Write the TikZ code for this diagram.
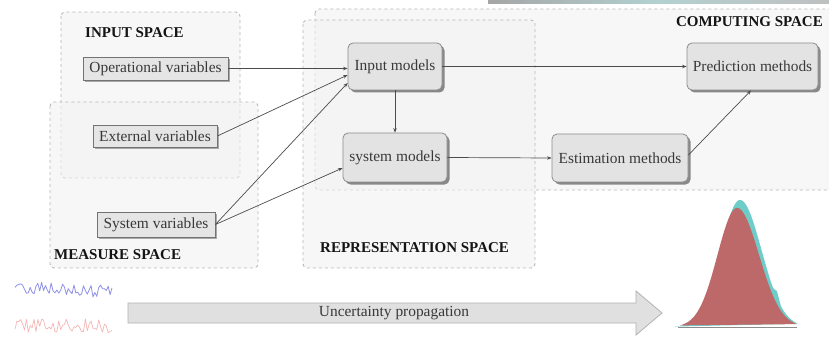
\documentclass[tikz,border=0pt]{standalone}
\usepackage{fontspec}
\setmainfont{Liberation Serif}
\usetikzlibrary{shadows,calc,arrows.meta}

\definecolor{bellred}{RGB}{190,105,105}
\definecolor{bellcyan}{RGB}{110,205,200}
\definecolor{sigblue}{RGB}{125,125,230}
\definecolor{sigred}{RGB}{242,150,150}

\begin{document}
\begin{tikzpicture}[x=1pt,y=-1pt,
  every node/.style={font=\fontsize{15.4}{18}\selectfont, text=black!78},
  space/.style={draw=black!28, dash pattern=on 3pt off 3pt, line width=0.9pt,
    fill=black!5, fill opacity=0.55, rounded corners=4pt},
  spacelabel/.style={font=\fontsize{15}{18}\selectfont\bfseries, text=black!92, inner sep=0pt},
  varbox/.style={draw=black!55, fill=black!10, line width=0.8pt, minimum height=23pt,
    inner xsep=3pt, inner ysep=0pt,
    drop shadow={shadow xshift=2pt, shadow yshift=-2pt, opacity=0.45, fill=black!70}},
  modelbox/.style={draw=black!45, fill=black!11, line width=0.8pt, rounded corners=5pt,
    minimum height=47pt, inner xsep=3pt, inner ysep=0pt,
    drop shadow={shadow xshift=2.5pt, shadow yshift=-2.5pt, opacity=0.6, fill=black!75}},
  link/.style={draw=black!70, line width=0.7pt, -{Stealth[length=4.5pt,width=3.5pt]}},
]
\clip (0,0) rectangle (829,339);
\fill[white] (0,0) rectangle (829,339);

% strip of a neighbouring figure along the top edge
\shade[left color=black!35, right color=black!25, middle color=cyan!40!black!30]
  (488,0) rectangle (829,3.5);

% spaces
\draw[space] (315,9) rectangle (850,190);
\draw[space] (303,20) rectangle (535,268);
\draw[space] (61,12) rectangle (240,178);
\draw[space] (50,102) rectangle (258,268);

\node[spacelabel, anchor=west] (lin)  at (85,33)   {INPUT SPACE};
\node[spacelabel, anchor=west] (lme)  at (54,255)  {MEASURE SPACE};
\node[spacelabel, anchor=west] (lre)  at (320,248) {REPRESENTATION SPACE};
\node[spacelabel, anchor=east] (lco)  at (823,22)  {COMPUTING SPACE};

% variables
\node[varbox, minimum width=145pt] (ov) at (155.5,68.5) {Operational variables};
\node[varbox, minimum width=124pt, minimum height=22pt] (ev) at (155,136) {External variables};
\node[varbox, minimum width=118pt, minimum height=25pt] (sv) at (156,224.5) {System variables};

% models and methods
\node[modelbox, minimum width=94pt] (im) at (395,66.5) {Input models};
\node[modelbox, minimum width=104pt, minimum height=49pt] (sm) at (395,157.5) {system models};
\node[modelbox, minimum width=136pt, minimum height=48pt] (em) at (620,158) {Estimation methods};
\node[modelbox, minimum width=131pt] (pm) at (752.5,66.5) {Prediction methods};

% connectors
\draw[link] (ov.east) -- (ov.east -| im.west);
\draw[link] (ev.east) -- ($(im.west)+(0,8.5)$);
\draw[link] (sv.east) -- ($(im.west)+(0,16.5)$);
\draw[link] (sv.east) -- ($(sm.west)+(0,10.5)$);
\draw[link] (im.south) -- (sm.north);
\draw[link] (im.east) -- (pm.west);
\draw[link] (sm.east) -- (em.west);
\draw[link] ($(em.east)+(0,-3)$) -- ($(pm.south)+(-1.5,0)$);

% uncertainty propagation arrow
\draw[fill=black!12, draw=black!30, line width=0.8pt]
  (128,303) -- (636,303) -- (636,291) -- (662,313) -- (636,335) -- (636,323) -- (128,323) -- cycle;
\node (up) at (394,313) {Uncertainty propagation};

% input signals
\pgfmathsetseed{11}
\draw[sigblue, line width=0.8pt, opacity=0.85, line join=round]
  plot[domain=15:112, samples=52] (\x, {292 + 7*rand - 0.05*(112-\x)});
\draw[sigred, line width=0.7pt, opacity=0.7, line join=round]
  plot[domain=15:112, samples=52] (\x, {326 + 7*rand});

% output distribution
\fill[bellcyan] plot[domain=674:798, samples=160]
  (\x, {327 - 127*exp(-((\x-740)^2)/(2*ifthenelse(\x<740,19.5,21.5)^2))
             - 7*max(0,1-abs(\x-777)/4) - 5*max(0,1-abs(\x-714)/4)}) -- cycle;
\fill[bellred] plot[domain=680:797, samples=160]
  (\x, {327 - 119*exp(-((\x-737)^2)/(2*ifthenelse(\x<737,19.5,22)^2))}) -- cycle;
\draw[black!45, line width=0.6pt] (678,327) -- (797,327);
\end{tikzpicture}
\end{document}
